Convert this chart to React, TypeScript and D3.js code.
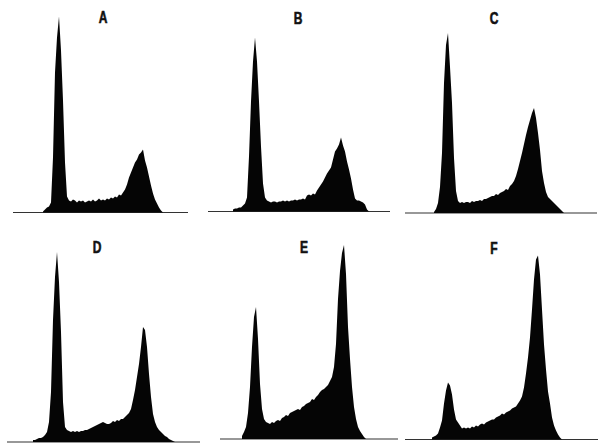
import * as d3 from "d3";
import React from "react";

// DNA histograms, one count per 2px channel
const histA = [1, 3, 5, 6, 10, 55, 140, 175, 196, 162, 112, 50, 16, 12, 11, 13, 12, 10, 12, 11, 12, 10, 11, 12, 11, 13, 11, 12, 14, 12, 13, 12, 14, 13, 15, 14, 16, 15, 18, 17, 20, 23, 28, 35, 40, 45, 50, 53, 58, 60, 63, 52, 45, 36, 27, 19, 13, 9, 5, 2, 0];
const histB = [2, 3, 3, 4, 4, 6, 8, 14, 55, 110, 150, 174, 150, 110, 65, 28, 14, 11, 10, 9, 10, 10, 9, 10, 10, 11, 10, 11, 10, 11, 11, 12, 11, 12, 12, 13, 12, 16, 17, 16, 18, 17, 21, 24, 27, 30, 34, 38, 41, 44, 52, 60, 63, 67, 74, 66, 60, 50, 42, 33, 22, 13, 11, 11, 10, 9, 7, 2, 0];
const histC = [1, 4, 10, 26, 60, 130, 168, 180, 146, 110, 55, 22, 12, 10, 11, 10, 11, 11, 10, 12, 11, 12, 12, 13, 12, 14, 14, 15, 16, 17, 17, 19, 18, 20, 21, 22, 24, 23, 27, 29, 32, 37, 44, 52, 60, 69, 78, 86, 93, 100, 105, 95, 80, 63, 42, 30, 21, 16, 14, 12, 10, 8, 6, 4, 2, 0];
const histD = [2, 2, 3, 4, 4, 5, 7, 10, 20, 50, 122, 165, 190, 160, 110, 40, 15, 12, 11, 10, 11, 10, 11, 10, 11, 11, 12, 12, 13, 14, 15, 16, 17, 18, 19, 20, 19, 18, 18, 19, 21, 20, 22, 21, 23, 23, 25, 27, 29, 33, 42, 52, 65, 78, 95, 115, 112, 95, 68, 45, 28, 20, 15, 12, 10, 8, 6, 5, 3, 2, 1, 0];
const histE = [3, 7, 12, 26, 52, 92, 122, 132, 100, 55, 30, 20, 17, 16, 15, 17, 16, 18, 19, 18, 21, 22, 24, 23, 26, 27, 28, 29, 30, 29, 32, 33, 35, 36, 37, 40, 39, 42, 44, 47, 49, 50, 52, 54, 58, 62, 72, 95, 140, 168, 186, 194, 165, 112, 80, 52, 32, 20, 12, 8, 5, 2, 0];
const histF = [2, 3, 4, 6, 12, 19, 36, 49, 57, 54, 45, 30, 20, 17, 14, 11, 12, 11, 12, 11, 13, 12, 14, 13, 15, 16, 15, 17, 18, 19, 20, 20, 22, 23, 24, 26, 25, 27, 28, 29, 31, 32, 33, 36, 39, 43, 52, 66, 82, 102, 130, 160, 180, 184, 165, 130, 95, 70, 48, 36, 22, 14, 9, 5, 2, 0];

const labels = ["A", "B", "C", "D", "E", "F"];
const series = [histA, histB, histC, histD, histE, histF];

// where each panel sits on the page
const layout = [
  { x0: 43, base: 212.5, axis: [13, 188], lab: [103, 23] },
  { x0: 233, base: 211.5, axis: [208, 390], lab: [298, 24] },
  { x0: 434, base: 213, axis: [405, 597], lab: [494, 24] },
  { x0: 33, base: 442, axis: [7, 200], lab: [97, 253] },
  { x0: 242, base: 439, axis: [220, 398], lab: [304, 253] },
  { x0: 432, base: 439.5, axis: [405, 598], lab: [494, 254] },
];

const binW = 2;

const Panel = ({ data, lab, cfg }: { data: number[]; lab: string; cfg: any }) => {
  const x = d3
    .scaleLinear()
    .domain([0, data.length - 1])
    .range([cfg.x0, cfg.x0 + binW * (data.length - 1)]);
  const y = d3.scaleLinear().domain([0, 200]).range([cfg.base, cfg.base - 200]);

  const area = d3
    .area<number>()
    .x((_, i) => x(i))
    .y0(cfg.base)
    .y1((d) => y(d))
    .curve(d3.curveLinear);

  return (
    <g>
      <line
        x1={cfg.axis[0]}
        x2={cfg.axis[1]}
        y1={cfg.base}
        y2={cfg.base}
        stroke="#333"
        strokeWidth={1.2}
      />
      <path d={area(data) || ""} fill="#050505" />
      {/* condensed heavy letter, squeezed by hand */}
      <text
        transform={`translate(${cfg.lab[0]},${cfg.lab[1]}) scale(0.75,1)`}
        textAnchor="middle"
        fontFamily="'Liberation Sans', Arial, sans-serif"
        fontWeight="bold"
        fontSize={16}
        stroke="#111"
        strokeWidth={0.6}
        fill="#111"
      >
        {lab}
      </text>
    </g>
  );
};

const App = () => {
  return (
    <svg
      width={599}
      height={443}
      style={{ position: "absolute", left: 0, top: 0, background: "#fff" }}
    >
      {series.map((s, i) => (
        <Panel key={labels[i]} data={s} lab={labels[i]} cfg={layout[i]} />
      ))}
    </svg>
  );
};

export default App;
